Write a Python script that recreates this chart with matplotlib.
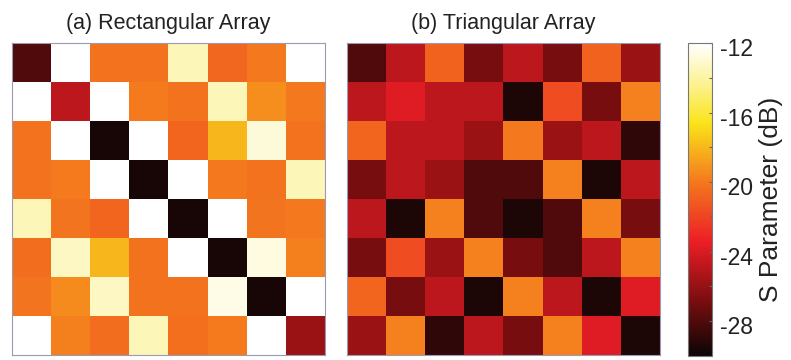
import numpy as np
import matplotlib
matplotlib.use("Agg")
import matplotlib.pyplot as plt
from matplotlib.ticker import MultipleLocator, FixedLocator
from matplotlib.colors import LinearSegmentedColormap
from matplotlib.transforms import ScaledTranslation

plt.rcParams['font.family'] = ['Liberation Sans', 'DejaVu Sans']
plt.rcParams['axes.unicode_minus'] = False

# Coupling between the 8 elements of each array, S parameter in dB
rect_array = [
    [-28.0, -12.0, -20.2, -20.2, -13.5, -20.6, -20.0, -12.0],
    [-12.0, -24.8, -12.0, -19.9, -20.2, -13.5, -19.3, -20.0],
    [-20.2, -12.0, -29.6, -12.0, -20.7, -18.0, -12.8, -20.2],
    [-20.2, -19.9, -12.0, -29.6, -12.0, -20.0, -20.2, -13.5],
    [-13.5, -20.1, -20.7, -12.0, -29.6, -12.0, -20.1, -20.0],
    [-20.4, -13.3, -18.0, -20.2, -12.0, -29.6, -12.7, -19.8],
    [-20.1, -19.4, -13.3, -20.2, -20.2, -12.5, -29.6, -12.0],
    [-12.0, -19.8, -20.4, -13.5, -20.3, -19.9, -12.0, -25.8],
]

tri_array = [
    [-28.0, -24.8, -20.8, -26.9, -24.8, -26.9, -20.8, -25.8],
    [-24.8, -23.8, -24.8, -24.8, -29.5, -21.7, -26.9, -19.7],
    [-20.7, -24.8, -24.8, -25.8, -20.0, -25.8, -24.8, -28.9],
    [-26.9, -24.8, -25.8, -28.0, -28.0, -19.7, -29.5, -24.8],
    [-24.8, -29.5, -19.7, -28.0, -29.5, -28.0, -19.7, -26.9],
    [-26.9, -21.7, -25.8, -19.7, -26.9, -28.0, -24.8, -19.7],
    [-20.7, -26.9, -24.8, -29.5, -19.7, -24.8, -29.5, -23.8],
    [-25.8, -19.7, -28.9, -24.8, -26.9, -19.7, -23.8, -29.5],
]

titles = ["(a) Rectangular Array", "(b) Triangular Array"]
cbar_ticks = [-12, -16, -20, -24, -28]
cbar_label = "S Parameter (dB)"
vmin, vmax = -30, -12

# black -> red -> orange -> yellow -> white, a slightly muted "hot"
hot_muted = LinearSegmentedColormap.from_list("hot_muted", [
    (0.000, "#0c0505"),
    (0.183, "#7e0e10"),
    (0.365, "#ec1e26"),
    (0.556, "#f4781e"),
    (0.746, "#fae41a"),
    (0.880, "#fcf39a"),
    (1.000, "#ffffff"),
])

fig = plt.figure(figsize=(7.91, 3.60), dpi=100)
W, H = 791, 360

def box(x0, x1, y0, y1):
    return [x0 / W, 1 - y1 / H, (x1 - x0) / W, (y1 - y0) / H]

ax_a = fig.add_axes(box(12, 325, 43, 355))
ax_b = fig.add_axes(box(347, 660, 43, 355))
cax = fig.add_axes(box(688, 712, 43, 356))

edge = "#9a9ab4"
im = None
for ax, data, title in zip((ax_a, ax_b), (rect_array, tri_array), titles):
    im = ax.imshow(np.array(data), cmap=hot_muted, vmin=vmin, vmax=vmax,
                   aspect="auto", interpolation="nearest")
    ax.set_xticks([])
    ax.set_yticks([])
    for s in ax.spines.values():
        s.set_edgecolor(edge)
        s.set_linewidth(0.8)
    ax.set_title(title, fontsize=15.5, pad=10, color="#222222")

cb = fig.colorbar(im, cax=cax)
cb.outline.set_edgecolor("#777777")
cb.outline.set_linewidth(0.8)
cax.yaxis.set_major_locator(FixedLocator(cbar_ticks))
cax.yaxis.set_minor_locator(MultipleLocator(2))
cax.tick_params(which="both", direction="in", length=2.5, width=0.8,
                color="#666666", labelsize=16.5, pad=6, labelcolor="#222222")
cb.set_label(cbar_label, fontsize=19, labelpad=4, color="#222222")

shift = ScaledTranslation(0, -0.04, fig.dpi_scale_trans)
for lab in cax.get_yticklabels():
    lab.set_transform(lab.get_transform() + shift)

fig.savefig("out.png", dpi=100)
